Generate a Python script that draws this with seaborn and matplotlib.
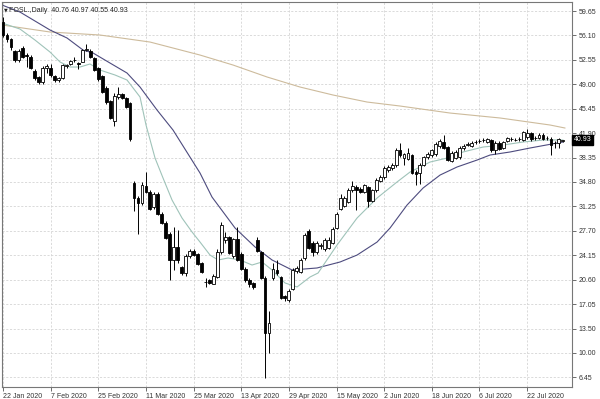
import numpy as np
import pandas as pd
import matplotlib
matplotlib.use("Agg")
import matplotlib.pyplot as plt
import matplotlib.transforms as mtransforms
import seaborn as sns

# ---------------- data ----------------
symbol_title = "FOSL.,Daily  40.76 40.97 40.55 40.93"

opens = [58.0, 56.2, 55.6, 53.8, 52.5, 54.3, 53.3, 52.9, 50.9, 50.0,
         49.3, 51.3, 51.4, 50.2, 49.6, 49.9, 51.7, 51.9, 52.5, 52.1,
         52.3, 54.0, 53.8, 52.8, 51.3, 50.2, 48.5, 46.5, 43.7, 47.2,
         47.6, 47.0, 46.3, 34.6, 32.4, 31.7, 34.2, 33.4, 31.1, 33.1,
         30.2, 28.9, 27.3, 23.4, 25.4, 22.4, 21.5, 24.0, 24.8, 24.3,
         23.0, 20.3, 20.5, 20.0, 21.0, 24.6, 26.3, 26.8, 24.0, 26.5,
         24.4, 22.2, 20.6, 20.1, 26.3, 24.6, 20.9, 12.9, 20.9, 22.0,
         21.0, 18.2, 17.6, 19.3, 21.8, 21.7, 23.7, 27.7, 26.0, 24.6,
         25.5, 25.0, 25.2, 26.0, 28.1, 30.9, 31.3, 31.9, 33.6, 34.0,
         33.8, 33.4, 34.0, 32.1, 33.6, 35.0, 35.5, 36.5, 36.9, 37.2,
         39.4, 38.3, 38.2, 38.7, 36.3, 36.1, 37.3, 38.4, 38.7, 38.8,
         40.0, 40.6, 39.9, 37.9, 38.3, 38.4, 39.7, 40.2, 40.1, 40.6,
         40.8, 40.9, 40.6, 40.9, 39.5, 40.5, 39.8, 40.8, 41.0, 40.9,
         41.0, 40.9, 41.3, 41.9, 41.2, 41.2, 41.7, 41.2, 41.1, 40.5,
         40.4, 40.76]
highs = [58.8, 56.4, 55.8, 54.0, 54.1, 54.6, 53.5, 53.2, 51.2, 50.2,
         51.6, 52.0, 52.0, 50.4, 50.1, 52.0, 52.0, 52.5, 52.9, 52.3,
         54.2, 54.9, 54.2, 53.0, 51.5, 50.4, 48.7, 46.7, 47.7, 48.6,
         47.8, 47.2, 46.4, 35.0, 32.8, 34.8, 36.2, 33.6, 33.4, 33.3,
         30.4, 29.1, 27.5, 28.2, 27.8, 22.6, 24.3, 25.0, 25.0, 24.5,
         23.2, 20.8, 20.7, 21.4, 25.0, 29.0, 27.5, 27.0, 26.7, 28.2,
         24.6, 22.4, 20.8, 20.3, 26.8, 24.8, 21.1, 16.0, 23.0, 23.5,
         21.2, 18.4, 19.3, 22.3, 22.6, 23.7, 27.4, 27.9, 26.2, 26.2,
         25.9, 26.6, 26.8, 28.2, 30.5, 33.0, 32.8, 33.9, 35.0, 34.3,
         34.0, 34.5, 34.2, 33.8, 35.4, 35.8, 37.1, 37.3, 37.6, 39.7,
         40.5, 39.0, 39.8, 38.9, 36.5, 37.5, 38.6, 39.1, 39.6, 40.6,
         41.1, 41.6, 40.1, 39.3, 39.5, 40.0, 40.3, 40.6, 40.7, 40.9,
         41.1, 41.2, 41.2, 41.1, 40.7, 40.7, 40.8, 41.4, 41.3, 41.2,
         41.3, 42.2, 42.5, 42.1, 41.5, 41.9, 41.9, 41.5, 41.3, 40.7,
         41.2, 40.97]
lows = [55.9, 55.2, 54.0, 52.2, 52.3, 52.8, 51.5, 51.2, 49.6, 49.1,
        49.0, 50.7, 50.1, 49.4, 49.4, 49.8, 51.4, 51.8, 52.2, 51.2,
        52.2, 53.9, 52.8, 50.9, 49.5, 47.7, 46.2, 43.9, 42.9, 46.9,
        46.8, 45.5, 40.8, 30.6, 27.3, 31.5, 33.2, 30.7, 30.8, 30.0,
        28.7, 26.5, 20.5, 22.0, 23.0, 21.3, 21.2, 23.8, 24.0, 22.7,
        21.5, 19.5, 19.9, 19.9, 20.8, 24.4, 25.9, 24.3, 23.8, 23.3,
        22.0, 20.3, 19.5, 19.3, 24.6, 20.7, 6.3, 10.0, 20.5, 21.3,
        17.8, 17.5, 17.4, 19.1, 21.6, 21.5, 23.5, 25.0, 24.0, 24.4,
        25.1, 24.8, 25.0, 25.8, 27.9, 30.7, 31.1, 31.7, 33.4, 30.7,
        33.2, 33.2, 31.1, 31.9, 33.4, 34.8, 35.3, 36.3, 36.6, 37.0,
        38.5, 37.2, 38.0, 35.9, 34.4, 34.5, 37.1, 38.2, 38.5, 38.6,
        39.8, 39.6, 37.8, 37.7, 38.1, 38.2, 39.5, 40.0, 39.9, 40.3,
        40.5, 40.6, 40.4, 39.2, 38.8, 39.4, 39.6, 40.6, 40.8, 40.7,
        40.8, 40.7, 41.1, 40.8, 40.9, 41.0, 40.9, 40.9, 38.7, 39.8,
        39.8, 40.55]
closes = [56.2, 55.6, 54.4, 52.5, 53.9, 53.0, 53.1, 51.4, 49.9, 49.3,
          51.4, 51.6, 50.4, 49.6, 49.9, 51.8, 51.8, 52.4, 52.6, 52.0,
          54.0, 54.1, 53.0, 51.1, 49.7, 47.9, 46.4, 44.1, 47.3, 47.6,
          47.0, 45.7, 41.0, 32.4, 31.7, 34.3, 33.4, 30.9, 33.1, 30.2,
          28.9, 26.7, 23.4, 25.4, 23.4, 21.5, 24.0, 24.7, 24.2, 22.9,
          21.7, 20.2, 20.1, 21.2, 24.6, 28.5, 26.8, 24.5, 26.5, 23.5,
          22.2, 20.5, 20.0, 19.6, 24.8, 20.9, 12.9, 14.3, 22.2, 21.5,
          18.0, 17.9, 19.0, 22.0, 22.3, 23.4, 27.1, 25.2, 24.6, 26.0,
          25.6, 26.3, 26.3, 28.0, 30.2, 32.4, 32.4, 33.6, 34.2, 33.6,
          33.4, 34.3, 32.1, 33.6, 35.1, 35.5, 36.8, 37.0, 37.3, 39.4,
          38.7, 38.8, 39.0, 36.1, 35.9, 37.3, 38.4, 38.9, 39.4, 40.3,
          40.8, 39.8, 38.0, 39.0, 39.2, 39.7, 40.1, 40.3, 40.5, 40.6,
          40.8, 40.9, 41.0, 39.4, 40.5, 39.6, 40.6, 41.2, 41.0, 40.9,
          41.1, 42.0, 41.9, 41.0, 41.2, 41.7, 41.1, 41.2, 40.2, 40.4,
          41.0, 40.93]

# moving-average lines (bar index, price)
ma_fast_idx = [-0.25, 4.28, 8.06, 11.84, 14.36, 16.88, 19.40, 21.91, 24.43, 28.21,
               31.23, 34.51, 36.02, 38.29, 40.30, 42.57, 45.09, 47.61, 49.62, 52.14,
               54.16, 56.68, 59.70, 62.72, 65.24, 67.76, 71.03, 74.06, 77.33, 79.35,
               84.13, 89.17, 94.21, 99.24, 102.52, 107.56, 111.84, 115.87, 120.91, 125.94,
               130.98, 136.02, 141.06]
ma_fast_val = [57.91, 57.03, 55.43, 53.69, 52.24, 51.51, 51.51, 51.95, 51.07, 50.35,
               49.62, 47.15, 43.08, 38.28, 35.38, 32.18, 29.56, 27.53, 26.07, 24.18,
               23.46, 23.75, 23.46, 22.73, 23.17, 22.01, 20.12, 19.54, 20.99, 21.57,
               25.64, 29.56, 32.47, 34.80, 36.25, 37.70, 38.28, 39.16, 39.88, 40.17,
               40.61, 40.90, 40.90]
ma_mid_idx = [-0.25, 4.28, 11.84, 16.12, 20.15, 22.67, 26.95, 31.23, 34.51, 38.79,
              42.82, 49.62, 52.64, 58.44, 63.48, 67.76, 72.80, 79.09, 84.89, 89.17,
              94.21, 97.48, 101.76, 105.79, 110.08, 114.36, 119.40, 122.67, 127.71, 132.75,
              139.55, 141.06]
ma_mid_val = [60.52, 59.50, 56.89, 55.73, 53.98, 53.55, 52.09, 50.64, 48.60, 45.26,
              42.35, 36.10, 32.61, 28.11, 25.35, 23.46, 22.01, 22.30, 23.17, 24.18,
              26.07, 28.11, 31.45, 33.92, 35.81, 36.98, 37.99, 38.72, 39.16, 39.74,
              40.46, 40.61]
ma_slow_idx = [-0.25, 11.84, 24.43, 37.03, 49.62, 57.93, 66.50, 74.81, 83.12, 91.69,
               100.00, 112.59, 125.19, 137.78, 141.56]
ma_slow_val = [57.62, 56.60, 56.16, 55.14, 53.25, 51.80, 50.06, 48.60, 47.44, 46.42,
               45.84, 44.82, 44.10, 43.08, 42.64]

x_tick_labels = ["22 Jan 2020", "7 Feb 2020", "25 Feb 2020", "11 Mar 2020",
                 "25 Mar 2020", "13 Apr 2020", "29 Apr 2020", "15 May 2020",
                 "2 Jun 2020", "18 Jun 2020", "6 Jul 2020", "22 Jul 2020"]
y_tick_labels = ["59.65", "56.10", "52.55", "49.00", "45.45", "41.90", "38.35", "34.80",
                 "31.25", "27.70", "24.15", "20.60", "17.05", "13.50", "10.00", "6.45"]
last_price = "40.93"

# ---------------- style ----------------
sns.set_style("white")
plt.rcParams["font.family"] = ["Liberation Sans", "DejaVu Sans"]

fig = plt.figure(figsize=(6.0, 3.99), dpi=100)
ax = fig.add_axes([2 / 600, 12 / 399, 570 / 600, 385 / 399])

o = np.array(opens); h = np.array(highs); l = np.array(lows); c = np.array(closes)
n = len(c)
xi = np.arange(n)

# moving averages
fast = pd.DataFrame({"i": ma_fast_idx, "v": ma_fast_val})
mid = pd.DataFrame({"i": ma_mid_idx, "v": ma_mid_val})
slow = pd.DataFrame({"i": ma_slow_idx, "v": ma_slow_val})
sns.lineplot(data=slow, x="i", y="v", ax=ax, color="#cdbb9c", linewidth=0.8,
             estimator=None, sort=False, zorder=2)
sns.lineplot(data=mid, x="i", y="v", ax=ax, color="#4d4b7e", linewidth=0.8,
             estimator=None, sort=False, zorder=2)
sns.lineplot(data=fast, x="i", y="v", ax=ax, color="#9fc3b9", linewidth=0.8,
             estimator=None, sort=False, zorder=2)

# candles
ax.vlines(xi, l, h, color="black", linewidth=0.7, zorder=3)
up = c >= o
ax.bar(xi, np.abs(c - o), bottom=np.minimum(o, c), width=0.72,
       color=np.where(up, "white", "black"), edgecolor="black",
       linewidth=0.6, zorder=4)

# axes limits / ticks
ax.set_xlim(-0.25, 143.3)
ax.set_ylim(5.0, 60.96)
ax.set_xlabel("")
ax.set_ylabel("")

ax.set_xticks(np.arange(0, 12 * len(x_tick_labels), 12))
ax.set_xticklabels(x_tick_labels)
yvals = [float(s) for s in y_tick_labels]
ax.set_yticks(yvals)
ax.set_yticklabels(y_tick_labels)

ax.yaxis.tick_right()
ax.tick_params(axis="y", right=True, left=False, labelright=True, labelleft=False,
               length=3, width=0.6, pad=2, labelsize=5, colors="#555555", labelcolor="#333333")
ax.tick_params(axis="x", bottom=True, length=3, width=0.6, pad=1.5, labelsize=5,
               colors="#555555", labelcolor="#333333")
for lab in ax.get_xticklabels():
    lab.set_ha("left")
for lab in ax.get_yticklabels():
    lab.set_ha("left")

ax.grid(True, color="#d4d4d4", linestyle=(0, (2.5, 2)), linewidth=0.6)
ax.set_axisbelow(True)
for s in ax.spines.values():
    s.set_color("#777777")
    s.set_linewidth(0.8)

# title
ax.text(0.004, 0.985, "\u25BC", transform=ax.transAxes, fontsize=3.5,
        va="top", ha="left", color="#222222", family=["DejaVu Sans"])
ax.text(0.013, 0.988, symbol_title, transform=ax.transAxes, fontsize=5,
        va="top", ha="left", color="#222222")

# last price label
trans = mtransforms.blended_transform_factory(ax.transAxes, ax.transData)
ax.text(1.003, float(last_price), last_price, transform=trans, fontsize=5,
        va="center", ha="left", color="white",
        bbox=dict(boxstyle="square,pad=0.25", facecolor="black", edgecolor="black"),
        zorder=6, clip_on=False)

fig.savefig("out.png", dpi=100, facecolor="white")
